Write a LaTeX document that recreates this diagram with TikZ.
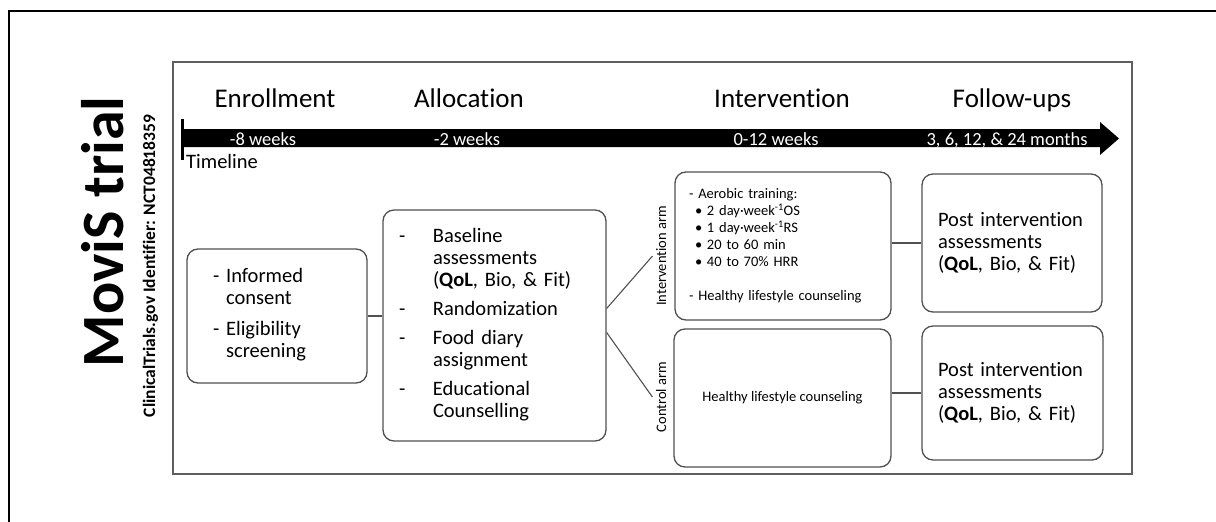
\documentclass[tikz,border=0pt]{standalone}
\usepackage{fontspec}
\setmainfont{Carlito}[Ligatures=NoCommon]
\setsansfont{Carlito}[Ligatures=NoCommon]
\usetikzlibrary{positioning}
\definecolor{boxgray}{RGB}{80,80,80}
\definecolor{framegray}{RGB}{95,95,95}
\tikzset{
	box/.style={draw=boxgray, line width=1.3pt, rounded corners=11pt, align=left, inner ysep=0pt},
	phase/.style={anchor=base, font=\fontsize{27}{30}\selectfont},
	weeks/.style={anchor=base, text=white, inner sep=0pt, font=\fontsize{18.5}{20}\selectfont},
	arm/.style={rotate=90, anchor=base, font=\fontsize{14.5}{17}\selectfont},
	link/.style={draw=boxgray, line width=1.1pt}
}
\begin{document}
\begin{tikzpicture}[x=1pt, y=-1pt, font=\sffamily]
	\useasboundingbox (0,0) rectangle (1216,522);
	%frames
	\draw[line width=2.6pt] (9,560) -- (9,11) -- (1240,11);
	\draw[framegray, line width=1.8pt] (173,62) rectangle (1132,474);
	%title
	\node[rotate=90, anchor=base, font=\fontsize{60}{62}\selectfont\bfseries] (title) at (123,232) {MoviS trial};
	\node[rotate=90, anchor=base, font=\fontsize{17.5}{20}\selectfont\bfseries] (trialid) at (155,266) {ClinicalTrials.gov Identifier: NCT04818359};
	%timeline
	\fill (184,129) -- (1100,129) -- (1100,122) -- (1119,138.5) -- (1100,155) -- (1100,147) -- (184,147) -- cycle;
	\draw[line width=3pt] (182,119) -- (182,160);
	\node[anchor=base west, inner sep=0pt, font=\fontsize{20.5}{22}\selectfont] (timeline) at (186,168) {Timeline};
	%phases
	\node[phase] (enroll) at (275,107) {Enrollment};
	\node[phase] (allochead) at (469,107) {Allocation};
	\node[phase] (intervhead) at (782,107) {Intervention};
	\node[phase] (followhead) at (1012,107) {Follow-ups};
	\node[weeks] (wk8) at (263,145) {-8 weeks};
	\node[weeks] (wk2) at (467,145) {-2 weeks};
	\node[weeks] (wk12) at (776,145) {0-12 weeks};
	\node[weeks] (months) at (1007,145) {3, 6, 12, \& 24 months};
	%boxes
	\node[box, minimum width=180pt, minimum height=134pt, text width=128pt, inner xsep=26pt,
		font=\fontsize{20.5}{22}\selectfont] (consent) at (277,316)
	{\begin{tabular}{@{}l@{ }l@{}}
		-&Informed\\&consent\\[9pt]
		-&Eligibility\\&screening
	\end{tabular}};
	\node[box, minimum width=223pt, minimum height=231pt, text width=191pt, inner xsep=16pt,
		font=\fontsize{20.5}{22}\selectfont] (alloc) at (494.5,325.5)
	{\begin{tabular}{@{}p{34pt}@{}l@{}}
		-&Baseline\\&assessments\\&(\textbf{QoL}, Bio, \& Fit)\\[7pt]
		-&Randomization\\[7pt]
		-&Food diary\\&assignment\\[7pt]
		-&Educational\\&Counselling
	\end{tabular}};
	\node[box, minimum width=216pt, minimum height=148pt, text width=188pt, inner xsep=14pt,
		font=\fontsize{14.5}{17}\selectfont] (interv) at (783,246)
	{- Aerobic training:\\
		\hspace*{6pt}\makebox[12pt][l]{•}2 day·week\textsuperscript{-1}OS\\
		\hspace*{6pt}\makebox[12pt][l]{•}1 day·week\textsuperscript{-1}RS\\
		\hspace*{6pt}\makebox[12pt][l]{•}20 to 60 min\\
		\hspace*{6pt}\makebox[12pt][l]{•}40 to 70\% HRR\\[17pt]
		- Healthy lifestyle counseling};
	\node[box, align=center, minimum width=217pt, minimum height=138pt,
		font=\fontsize{14.5}{17}\selectfont] (control) at (782.5,398) {Healthy lifestyle counseling};
	\node[box, minimum width=180pt, minimum height=138pt, text width=148pt, inner xsep=16pt,
		font=\fontsize{20.5}{22}\selectfont] (post1) at (1012,243)
	{Post intervention\\assessments\\(\textbf{QoL}, Bio, \& Fit)};
	\node[box, minimum width=181pt, minimum height=134pt, text width=149pt, inner xsep=16pt,
		font=\fontsize{20.5}{22}\selectfont] (post2) at (1012.5,393)
	{Post intervention\\assessments\\(\textbf{QoL}, Bio, \& Fit)};
	%arms
	\node[arm] (iarm) at (666,256) {Intervention arm};
	\node[arm] (carm) at (666,397) {Control arm};
	%links
	\draw[link] (consent.east) -- (consent.east -| alloc.west);
	\draw[link] ([yshift=17pt]alloc.east) -- (iarm.north);
	\draw[link] ([yshift=-7pt]alloc.east) -- (carm.north);
	\draw[link] (post1.west -| interv.east) -- (post1.west);
	\draw[link] (post2.west -| control.east) -- (post2.west);
\end{tikzpicture}
\end{document}
